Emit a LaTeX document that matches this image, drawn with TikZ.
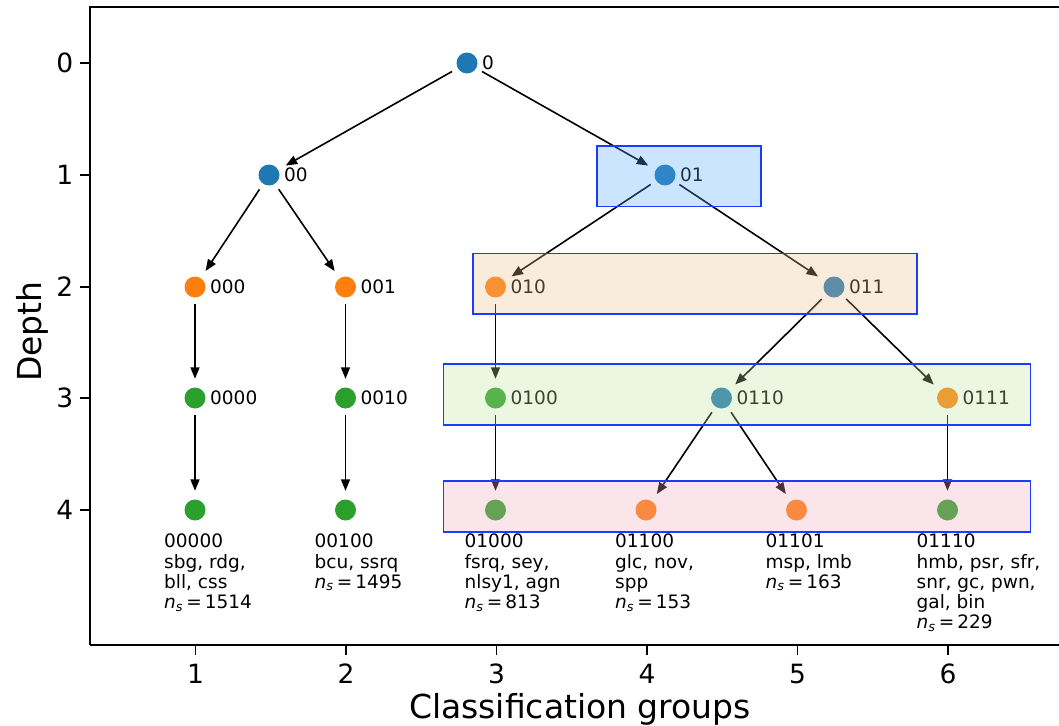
\documentclass[tikz,border=0pt]{standalone}
\usepackage{fontspec}
\setmainfont{DejaVu Sans}
\usetikzlibrary{arrows.meta}
\definecolor{tabblue}{RGB}{31,119,180}
\definecolor{taborange}{RGB}{255,127,14}
\definecolor{tabgreen}{RGB}{44,160,44}
\definecolor{boxblue}{RGB}{85,168,255}
\definecolor{boxorange}{RGB}{238,192,138}
\definecolor{boxgreen}{RGB}{188,228,152}
\definecolor{boxpink}{RGB}{235,168,185}
\definecolor{edgeblue}{RGB}{25,60,255}
\newcommand{\nsv}[1]{{\itshape n}\textsubscript{\itshape s}\,=\,#1}
\begin{document}
\begin{tikzpicture}[x=1pt,y=-1pt,
  dot/.style={circle,minimum size=21pt,inner sep=0pt,fill=#1},
  lbl/.style={anchor=base west,inner sep=0pt,font=\fontsize{18.5}{20.3}\selectfont},
  leaf/.style={anchor=north west,inner sep=0pt,align=left,font=\fontsize{18.5}{20.3}\selectfont},
  arr/.style={-{Triangle[length=11.5pt,width=9pt]},line width=1.6pt,shorten <=6.5pt,shorten >=8.5pt},
  hbox/.style={draw=edgeblue,line width=1.3pt,fill=#1,fill opacity=0.3},
  spine/.style={line width=1.5pt},
  tickmark/.style={line width=1.3pt},
  ticklbl/.style={font=\fontsize{26.5}{26.5}\selectfont,inner sep=0pt},
  axlbl/.style={font=\fontsize{33}{33}\selectfont,inner sep=0pt,anchor=base},
]
\useasboundingbox (0,0) rectangle (1059,725);

% axes
\draw[spine] (90,645) -- (90,7) -- (1059,7);
\draw[spine] (90,645) -- (1059,645);
\foreach \d/\y in {0/63,1/175,2/287,3/398,4/510}{
  \draw[tickmark] (80,\y) -- (90,\y);
  \node[ticklbl,anchor=base east] (yt\d) at (73.5,\y+9.6) {\d};
}
\foreach \g/\x in {1/195.5,2/346,3/496.5,4/647,5/797.5,6/948}{
  \draw[tickmark] (\x,645) -- (\x,655);
  \node[ticklbl,anchor=base] (xt\g) at (\x,683.5) {\g};
}
\node[axlbl] (xlab) at (580,718) {Classification groups};
\node[axlbl,rotate=90] (ylab) at (41.5,331.5) {Depth};

% tree nodes
\node[dot=tabblue] (n0) at (467,63) {};
\node[dot=tabblue] (n00) at (269,175) {};
\node[dot=tabblue] (n01) at (665,175) {};
\node[dot=taborange] (n000) at (195,287) {};
\node[dot=taborange] (n001) at (345.5,287) {};
\node[dot=taborange] (n010) at (495.5,287) {};
\node[dot=tabblue] (n011) at (834,287) {};
\node[dot=tabgreen] (n0000) at (195,398) {};
\node[dot=tabgreen] (n0010) at (345.5,398) {};
\node[dot=tabgreen] (n0100) at (495.5,398) {};
\node[dot=tabblue] (n0110) at (721.5,398) {};
\node[dot=taborange] (n0111) at (947.5,398) {};
\node[dot=tabgreen] (n00000) at (195,510) {};
\node[dot=tabgreen] (n00100) at (345.5,510) {};
\node[dot=tabgreen] (n01000) at (495.5,510) {};
\node[dot=taborange] (n01100) at (646,510) {};
\node[dot=taborange] (n01101) at (796.5,510) {};
\node[dot=tabgreen] (n01110) at (947.5,510) {};

% node labels
\node[lbl] (l0) at (482,69.7) {0};
\node[lbl] (l00) at (284,181.7) {00};
\node[lbl] (l01) at (680,181.7) {01};
\node[lbl] (l000) at (210,293.7) {000};
\node[lbl] (l001) at (360.5,293.7) {001};
\node[lbl] (l010) at (510.5,293.7) {010};
\node[lbl] (l011) at (849,293.7) {011};
\node[lbl] (l0000) at (210,404.7) {0000};
\node[lbl] (l0010) at (360.5,404.7) {0010};
\node[lbl] (l0100) at (510.5,404.7) {0100};
\node[lbl] (l0110) at (736.5,404.7) {0110};
\node[lbl] (l0111) at (962.5,404.7) {0111};

% leaf texts
\node[leaf] (t00000) at (164,533.8) {00000\\sbg, rdg,\\bll, css\\\nsv{1514}};
\node[leaf] (t00100) at (314.5,533.8) {00100\\bcu, ssrq\\\nsv{1495}};
\node[leaf] (t01000) at (464.5,533.8) {01000\\fsrq, sey,\\nlsy1, agn\\\nsv{813}};
\node[leaf] (t01100) at (615,533.8) {01100\\glc, nov,\\spp\\\nsv{153}};
\node[leaf] (t01101) at (765.5,533.8) {01101\\msp, lmb\\\nsv{163}};
\node[leaf] (t01110) at (916.5,533.8) {01110\\hmb, psr, sfr,\\snr, gc, pwn,\\gal, bin\\\nsv{229}};

% arrows
\draw[arr] (n0) -- (n00);
\draw[arr] (n0) -- (n01);
\draw[arr] (n00) -- (n000);
\draw[arr] (n00) -- (n001);
\draw[arr] (n01) -- (n010);
\draw[arr] (n01) -- (n011);
\draw[arr] (n000) -- (n0000);
\draw[arr] (n001) -- (n0010);
\draw[arr] (n010) -- (n0100);
\draw[arr] (n011) -- (n0110);
\draw[arr] (n011) -- (n0111);
\draw[arr] (n0000) -- (n00000);
\draw[arr] (n0010) -- (n00100);
\draw[arr] (n0100) -- (n01000);
\draw[arr] (n0110) -- (n01100);
\draw[arr] (n0110) -- (n01101);
\draw[arr] (n0111) -- (n01110);

% highlight boxes (semi-transparent overlays)
\path[hbox=boxblue] (597,146) rectangle (761,206.5);
\path[hbox=boxorange] (473,253.5) rectangle (917,314);
\path[hbox=boxgreen] (443.5,364) rectangle (1030.5,425);
\path[hbox=boxpink] (443.5,481) rectangle (1030.5,532);
\end{tikzpicture}
\end{document}
